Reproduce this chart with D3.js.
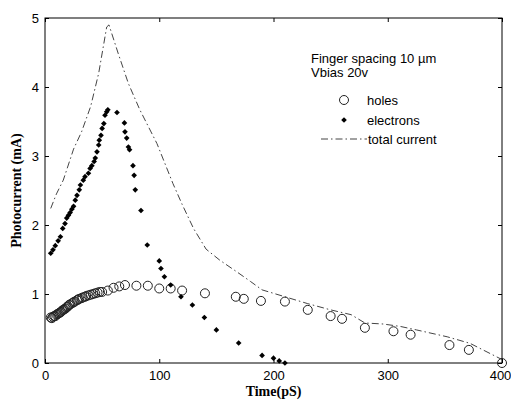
<!DOCTYPE html>
<html>
<head>
<meta charset="utf-8">
<script src="https://cdn.jsdelivr.net/npm/d3@7"></script>
<style>
	body { margin: 0; background: #fff; }
	.tick text { font-family: "Liberation Sans", Arial, sans-serif; font-size: 13px; fill: #000; }
	.tick line { stroke: #000; }
	.lab { font-family: "Liberation Serif", "Times New Roman", serif; font-size: 14px; font-weight: bold; }
	.leg { font-family: "Liberation Sans", Arial, sans-serif; font-size: 13px; }
</style>
</head>
<body>
<div class="chart"></div>
<script>
;(function(window, document, undefined) {

	'use strict';

	var xTicks = [0, 100, 200, 300, 400];
	var yTicks = [0, 1, 2, 3, 4, 5];

	var holesTime = [5, 6, 7, 8, 9, 10, 11, 12, 13, 14, 15, 16, 17, 18, 19, 20, 21, 22, 24, 25, 26, 28, 29, 30,
		32, 33, 35, 36, 38, 40, 42, 44, 46, 48, 50, 55, 60, 65, 70, 80, 90, 100, 110, 120, 140, 167, 174,
		189, 210, 230, 250, 260, 280, 305, 320, 354, 371, 400];
	var holesCurrent = [0.66, 0.65, 0.67, 0.68, 0.68, 0.70, 0.71, 0.72, 0.73, 0.74, 0.76, 0.77, 0.78, 0.79, 0.81,
		0.82, 0.84, 0.85, 0.87, 0.88, 0.89, 0.91, 0.92, 0.93, 0.94, 0.95, 0.96, 0.97, 0.98, 0.99, 1.00, 1.01,
		1.02, 1.03, 1.03, 1.05, 1.09, 1.11, 1.13, 1.12, 1.12, 1.08, 1.08, 1.05, 1.01, 0.96, 0.93, 0.90, 0.89,
		0.77, 0.68, 0.64, 0.51, 0.46, 0.41, 0.26, 0.19, 0.0];

	var electronsTime = [5, 7, 9, 11.5, 13.5, 15.5, 17.5, 19, 20.5, 22, 23.5, 25, 26.5, 28, 30, 31, 33.5, 35, 38,
		39.5, 41, 43, 44, 45.5, 47, 47.5, 49, 50, 51.5, 52.5, 54, 55, 63, 69.5, 70, 71.5, 73, 74, 77, 78, 79,
		84, 89.5, 100, 101.5, 104.5, 110, 119, 129, 139.5, 150, 169.5, 190, 200, 205, 210];
	var electronsCurrent = [1.59, 1.64, 1.70, 1.77, 1.83, 1.95, 2.02, 2.10, 2.14, 2.18, 2.23, 2.27, 2.36, 2.43,
		2.51, 2.58, 2.65, 2.70, 2.75, 2.82, 2.86, 2.92, 2.97, 3.06, 3.16, 3.23, 3.30, 3.40, 3.47, 3.59, 3.64,
		3.67, 3.63, 3.48, 3.35, 3.26, 3.13, 3.09, 2.86, 2.72, 2.51, 2.21, 1.71, 1.48, 1.37, 1.25, 1.13, 0.96,
		0.84, 0.66, 0.48, 0.29, 0.11, 0.07, 0.03, 0.0];

	var totalTime = [5, 10, 16, 25, 32, 40, 47, 54, 56, 64, 73, 83, 98, 112, 120, 130, 141, 153, 168, 180, 190,
		200, 210, 230, 250, 268, 280, 296, 311, 325, 352, 372, 400];
	var totalCurrent = [2.24, 2.45, 2.65, 3.1, 3.35, 3.72, 4.2, 4.87, 4.9, 4.49, 4.05, 3.67, 3.18, 2.6, 2.3,
		1.95, 1.65, 1.49, 1.32, 1.18, 1.06, 1.01, 0.96, 0.86, 0.77, 0.70, 0.58, 0.565, 0.53, 0.48, 0.38,
		0.285, 0.05];

	function zip(a, b) {
		return a.map(function(t, i) { return { t: t, v: b[i] }; });
	}

	function render() {
		var width = 511, height = 403;
		var left = 45, right = 502, top = 18, bottom = 363;

		var x = d3.scaleLinear().domain([0, 400]).range([left, right]);
		var y = d3.scaleLinear().domain([0, 5]).range([bottom, top]);
		var fmt = d3.format('d');

		var svg = d3.select('.chart')
			.append('svg')
			.attr('width', width)
			.attr('height', height);

		// axes, ticks inward on all sides
		svg.append('g')
			.attr('transform', 'translate(0,' + bottom + ')')
			.call(d3.axisBottom(x).tickValues(xTicks).tickFormat(fmt).tickSize(-4).tickSizeOuter(0).tickPadding(8))
			.call(function(g) {
				g.select('.domain').remove();
				// last label sits on the window edge, nudge it in
				g.selectAll('.tick:last-of-type text').attr('dx', -2);
			});
		svg.append('g')
			.attr('transform', 'translate(0,' + top + ')')
			.call(d3.axisTop(x).tickValues(xTicks).tickSize(-4).tickSizeOuter(0).tickFormat(''))
			.call(function(g) { g.select('.domain').remove(); });
		svg.append('g')
			.attr('transform', 'translate(' + left + ',0)')
			.call(d3.axisLeft(y).tickValues(yTicks).tickFormat(fmt).tickSize(-4).tickSizeOuter(0).tickPadding(6))
			.call(function(g) { g.select('.domain').remove(); });
		svg.append('g')
			.attr('transform', 'translate(' + right + ',0)')
			.call(d3.axisRight(y).tickValues(yTicks).tickSize(-4).tickSizeOuter(0).tickFormat(''))
			.call(function(g) { g.select('.domain').remove(); });

		svg.append('rect')
			.attr('x', left)
			.attr('y', top)
			.attr('width', right - left)
			.attr('height', bottom - top)
			.attr('fill', 'none')
			.attr('stroke', '#000');

		svg.append('text')
			.attr('class', 'lab')
			.attr('x', (left + right) / 2)
			.attr('y', 396)
			.attr('text-anchor', 'middle')
			.text('Time(pS)');
		svg.append('text')
			.attr('class', 'lab')
			.attr('transform', 'translate(21,' + ((top + bottom) / 2) + ') rotate(-90)')
			.attr('text-anchor', 'middle')
			.text('Photocurrent (mA)');

		// total current
		var line = d3.line()
			.x(function(d) { return x(d.t); })
			.y(function(d) { return y(d.v); });
		svg.append('path')
			.datum(zip(totalTime, totalCurrent))
			.attr('d', line)
			.attr('fill', 'none')
			.attr('stroke', '#444')
			.attr('stroke-width', 1)
			.attr('stroke-dasharray', '7,3,1.5,3');

		// holes
		svg.selectAll('circle.hole')
			.data(zip(holesTime, holesCurrent))
			.enter()
			.append('circle')
			.attr('class', 'hole')
			.attr('cx', function(d) { return x(d.t); })
			.attr('cy', function(d) { return y(d.v); })
			.attr('r', 4.5)
			.attr('fill', 'none')
			.attr('stroke', '#222');

		// electrons
		var diamond = d3.symbol().type(d3.symbolSquare).size(16);
		svg.selectAll('path.el')
			.data(zip(electronsTime, electronsCurrent))
			.enter()
			.append('path')
			.attr('class', 'el')
			.attr('d', diamond)
			.attr('transform', function(d) {
				return 'translate(' + x(d.t) + ',' + y(d.v) + ') rotate(45)';
			})
			.attr('fill', '#000');

		// legend
		var leg = svg.append('g').attr('class', 'leg');
		leg.append('text').attr('x', 311).attr('y', 63).text('Finger spacing 10 \u00b5m');
		leg.append('text').attr('x', 311).attr('y', 77).text('Vbias 20v');

		leg.append('circle')
			.attr('cx', 344).attr('cy', 100).attr('r', 4.5)
			.attr('fill', 'none').attr('stroke', '#222');
		leg.append('text').attr('x', 367).attr('y', 104.5).text('holes');

		leg.append('path')
			.attr('d', diamond)
			.attr('transform', 'translate(344,120) rotate(45)')
			.attr('fill', '#000');
		leg.append('text').attr('x', 367).attr('y', 124.5).text('electrons');

		leg.append('line')
			.attr('x1', 321).attr('x2', 367).attr('y1', 139).attr('y2', 139)
			.attr('stroke', '#444')
			.attr('stroke-dasharray', '7,3,1.5,3');
		leg.append('text').attr('x', 368).attr('y', 143.5).text('total current');
	}

	render();

})(window, document);
</script>
</body>
</html>
